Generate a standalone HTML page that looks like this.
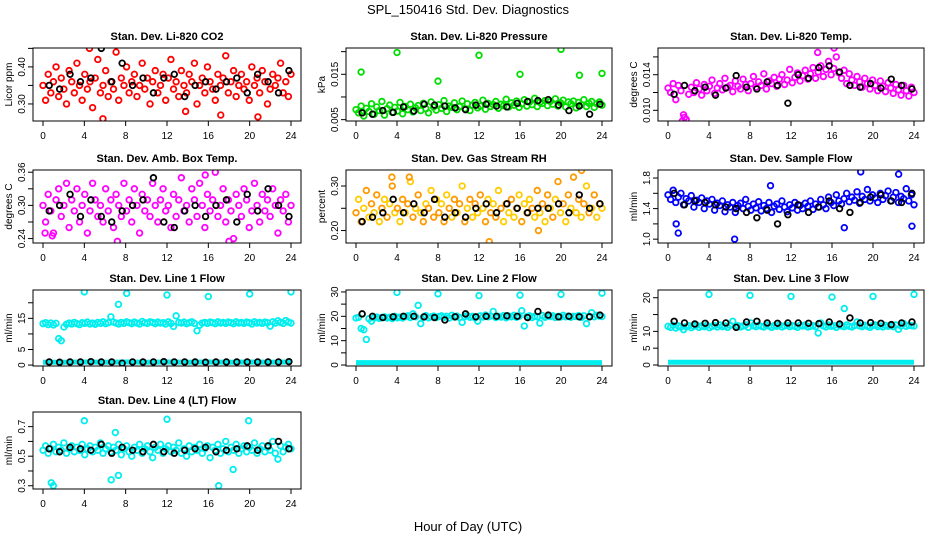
<!DOCTYPE html>
<html><head><meta charset="utf-8"><style>
html,body{margin:0;padding:0;background:#fff}
svg{display:block;font-family:"Liberation Sans",Arial,sans-serif}
</style></head><body>
<svg id="chart" width="936" height="540" viewBox="0 0 936 540">
<text x="468" y="14" text-anchor="middle" font-size="13">SPL_150416  Std. Dev. Diagnostics</text>
<text x="468" y="531" text-anchor="middle" font-size="13">Hour of Day (UTC)</text>
</svg>
<script>
const xTicks=[0,4,8,12,16,20,24];
const co2Vals=[.35,.31,.38,.33,.36,.40,.32,.37,.34,.30,.39,.36,.33,.41,.35,.31,.38,.34,.36,.29,.37,.42,.33,.35,.39,.32,.36,.34,.44,.31,.37,.35,.40,.33,.36,.38,.32,.35,.41,.34,.37,.30,.36,.39,.33,.35,.38,.31,.37,.42,.34,.36,.32,.39,.35,.33,.38,.36,.41,.30,.35,.37,.33,.40,.36,.34,.31,.38,.35,.37,.43,.33,.36,.39,.32,.35,.38,.34,.36,.31,.40,.35,.37,.33,.39,.36,.30,.34,.38,.35,.37,.41,.33,.36,.32,.38];
const co2Black=[.35,.34,.38,.36,.37,.45,.36,.41,.35,.37,.33,.37,.38,.32,.35,.36,.34,.36,.37,.33,.38,.36,.33,.39];
const co2OutH=[4.5,5.8,13.8,17.2,20.8];
const co2OutV=[.45,.26,.28,.27,.265];
const presVals=[.0072,.0065,.0080,.0058,.0075,.0068,.0085,.0062,.0078,.0070,.0090,.0060,.0074,.0082,.0066,.0077,.0069,.0088,.0063,.0079,.0072,.0084,.0067,.0076,.0081,.0070,.0086,.0074,.0065,.0089,.0078,.0071,.0083,.0075,.0092,.0068,.0080,.0077,.0087,.0072,.0079,.0091,.0074,.0085,.0070,.0082,.0088,.0076,.0080,.0093,.0073,.0086,.0079,.0083,.0090,.0075,.0084,.0081,.0095,.0078,.0087,.0082,.0091,.0077,.0085,.0094,.0080,.0089,.0083,.0097,.0079,.0088,.0086,.0092,.0081,.0090,.0084,.0096,.0080,.0087,.0093,.0078,.0089,.0085,.0091,.0076,.0088,.0083,.0094,.0079,.0086,.0090,.0077,.0085,.0089,.0082];
const presBlack=[.0065,.0062,.0070,.0066,.0078,.0069,.0084,.0082,.0080,.0076,.0072,.0082,.0084,.0080,.0078,.0086,.0090,.0092,.0094,.0082,.0070,.0080,.0062,.0084];
const presOutH=[0.5,4,8,12,16,20,21.8,24];
const presOutV=[.0155,.0198,.0135,.0192,.0150,.0205,.0148,.0152];
const tempVals=[.0125,.0120,.0130,.0112,.0128,.0122,.0095,.0090,.0118,.0126,.0120,.0131,.0124,.0117,.0129,.0122,.0127,.0134,.0119,.0125,.0130,.0123,.0136,.0126,.0128,.0121,.0133,.0127,.0124,.0135,.0129,.0122,.0130,.0138,.0126,.0132,.0128,.0141,.0124,.0133,.0130,.0137,.0127,.0135,.0140,.0129,.0134,.0146,.0131,.0137,.0142,.0133,.0139,.0145,.0135,.0141,.0148,.0136,.0143,.0150,.0138,.0146,.0155,.0140,.0147,.0160,.0142,.0136,.0145,.0130,.0141,.0134,.0128,.0138,.0132,.0126,.0136,.0130,.0124,.0134,.0128,.0122,.0133,.0127,.0121,.0131,.0125,.0119,.0129,.0123,.0117,.0128,.0122,.0116,.0126,.0120];
const tempBlack=[.0118,.0128,.0122,.0126,.0117,.0125,.0139,.0126,.0124,.0132,.0128,.0108,.0140,.0136,.0148,.0150,.0143,.0128,.0126,.0130,.0125,.0135,.0128,.0124];
const tempOutH=[1.4,1.6,16.2,14.6];
const tempOutV=[.0088,.0092,.0170,.0165];
const ambVals=[.30,.27,.32,.29,.25,.31,.33,.28,.30,.34,.26,.31,.29,.33,.27,.30,.32,.25,.29,.34,.31,.28,.30,.27,.33,.29,.31,.26,.32,.30,.28,.34,.29,.31,.27,.33,.30,.25,.32,.29,.31,.28,.34,.30,.27,.31,.33,.29,.30,.26,.32,.28,.31,.35,.29,.30,.27,.33,.31,.28,.34,.30,.26,.32,.29,.31,.36,.28,.30,.33,.27,.31,.29,.24,.32,.30,.28,.33,.31,.26,.29,.34,.30,.27,.32,.29,.31,.28,.33,.30,.25,.31,.29,.32,.27,.30];
const ambBlack=[.29,.30,.32,.28,.31,.28,.27,.29,.30,.31,.35,.27,.26,.29,.30,.28,.30,.31,.27,.32,.29,.33,.30,.28];
const ambOutH=[0.2,0.9,7.2,15.7,18.0];
const ambOutV=[.25,.245,.235,.355,.235];
const rhVals=[.24,.27,.22,.25,.29,.23,.26,.24,.28,.22,.25,.27,.23,.26,.30,.24,.25,.22,.27,.24,.26,.31,.23,.25,.28,.24,.22,.26,.25,.29,.23,.27,.24,.26,.22,.28,.25,.23,.27,.24,.26,.30,.22,.25,.27,.23,.26,.24,.28,.25,.22,.27,.24,.26,.23,.29,.25,.22,.26,.24,.27,.23,.25,.28,.22,.26,.24,.27,.25,.23,.29,.24,.26,.22,.28,.25,.23,.27,.31,.24,.26,.22,.28,.25,.32,.24,.27,.23,.26,.30,.24,.25,.28,.23,.26,.25];
const rhBlack=[.22,.23,.24,.27,.24,.26,.24,.27,.23,.24,.23,.25,.26,.24,.26,.25,.24,.25,.25,.26,.24,.28,.25,.26];
const rhOutH=[3.5,5.2,13.0,17.8,22.0];
const rhOutV=[.32,.32,.175,.20,.335];
const flowVals=[1.58,1.52,1.64,1.48,1.55,1.60,1.45,1.53,1.50,1.57,1.42,1.51,1.48,1.54,1.40,1.50,1.46,1.52,1.38,1.47,1.44,1.50,1.36,1.45,1.42,1.48,1.35,1.44,1.47,1.40,1.52,1.43,1.38,1.46,1.41,1.49,1.37,1.44,1.40,1.48,1.35,1.43,1.46,1.39,1.50,1.42,1.36,1.45,1.41,1.48,1.38,1.44,1.40,1.47,1.43,1.50,1.39,1.46,1.42,1.52,1.45,1.40,1.55,1.48,1.44,1.58,1.50,1.46,1.53,1.60,1.49,1.55,1.51,1.62,1.47,1.56,1.52,1.65,1.50,1.58,1.54,1.48,1.60,1.52,1.57,1.63,1.50,1.55,1.61,1.48,1.56,1.53,1.66,1.50,1.58,1.45];
const flowBlack=[1.60,1.45,1.50,1.48,1.45,1.42,1.40,1.35,1.28,1.38,1.20,1.32,1.45,1.35,1.42,1.50,1.40,1.35,1.48,1.55,1.58,1.50,1.48,1.60];
const flowOutH=[0.8,1.0,6.5,10,18.8,22.5,23.8,17.2];
const flowOutV=[1.2,1.08,1.0,1.7,1.88,1.85,1.17,1.15];
const l1Vals=[13.3,13.6,13.0,13.5,12.9,13.4,8.5,7.8,12.2,13.1,13.5,13.2,13.7,13.3,13.0,13.6,13.4,13.8,13.2,13.5,13.1,13.7,13.4,13.9,13.3,13.6,15.5,13.8,13.5,13.2,13.7,13.4,13.9,13.6,13.3,13.8,13.5,13.2,14.0,13.6,13.4,13.9,13.7,13.3,13.8,13.5,13.6,13.2,13.9,13.4,12.4,15.8,13.7,13.5,13.8,13.3,13.6,13.9,13.4,11.0,12.8,13.5,13.7,13.4,13.8,13.6,13.3,13.9,13.5,13.7,13.4,13.8,13.6,13.3,13.9,13.5,13.7,13.4,13.8,13.6,13.2,13.9,13.5,13.7,13.4,13.8,13.6,12.5,13.9,13.5,14.2,13.7,13.4,14.3,13.8,13.5];
const l1Black=[1.0,0.9,1.0,1.0,1.1,1.0,1.0,0.6,1.0,1.0,1.0,1.1,1.0,1.0,1.0,0.9,1.0,1.0,1.0,1.0,1.0,1.0,1.0,1.1];
const l1Low=[0.9,0.9,1.0,0.9,1.0,0.9,1.0,0.9,1.0,0.9,1.0,0.9,1.0];
const l1OutH=[4,7.3,8.1,12,16,20,24];
const l1OutV=[23.5,19.5,23.0,22.5,22.0,22.8,23.5];
const l2Vals=[19.3,19.6,15.0,14.5,10.5,19.0,18.0,19.4,19.7,19.2,19.5,19.8,19.3,19.6,19.1,20.0,19.4,19.7,19.3,19.9,20.2,19.5,21.0,19.8,24.5,17.0,19.6,20.3,19.4,19.8,20.1,19.5,19.9,20.2,19.6,20.0,19.3,20.4,19.7,20.1,19.5,17.5,19.9,20.3,19.6,20.0,19.4,18.0,20.2,19.7,20.5,19.8,20.1,22.0,19.5,20.0,19.7,20.3,19.4,20.1,19.8,20.4,19.6,20.0,22.3,16.0,19.9,20.2,19.5,20.0,19.8,17.2,20.3,19.6,20.1,19.9,20.2,19.5,20.0,19.7,20.4,19.8,20.1,19.6,20.0,19.9,20.3,19.5,20.2,17.0,20.0,21.5,19.8,20.4,20.1,19.9];
const l2Black=[21.0,20.0,19.5,19.8,20.0,20.0,19.8,19.5,18.5,19.8,21.0,19.8,20.0,20.0,20.2,20.0,19.5,22.0,20.5,19.8,20.0,19.8,19.8,20.5];
const l2Low=[1.0,1.0,1.0,1.0,1.0,1.0,1.0,1.0,1.0,1.0,1.0,1.0,1.0];
const l2OutH=[4,8,12,16,20,24];
const l2OutV=[29.8,29.2,28.5,28.7,29.0,29.5];
const l3Vals=[11.5,11.2,11.8,11.0,11.6,11.3,10.5,11.4,11.7,11.1,11.5,11.9,11.2,11.6,11.4,11.8,11.1,11.5,11.7,11.3,11.9,11.4,11.6,11.2,11.8,13.0,11.5,11.7,11.3,11.6,11.9,11.2,12.5,11.7,11.4,11.8,11.5,11.3,11.9,11.6,11.2,11.7,11.5,11.9,11.3,11.6,11.8,11.4,11.7,11.5,11.2,11.8,11.6,11.9,11.3,11.5,11.7,11.4,9.5,12.5,11.6,11.3,11.9,11.5,11.7,11.2,11.8,11.6,11.4,11.9,11.5,11.3,11.7,12.8,11.6,11.4,11.8,11.5,11.2,11.7,11.9,11.4,11.6,11.3,11.8,11.5,11.7,11.4,11.9,10.6,11.6,12.3,11.5,11.8,11.7,11.6];
const l3Black=[13.0,12.5,12.2,12.4,12.6,12.5,11.2,12.8,13.0,12.5,12.4,12.5,12.5,12.4,12.3,12.8,12.2,14.0,12.5,12.6,12.4,12.0,12.5,12.8];
const l3Low=[0.8,0.8,0.8,0.8,0.8,0.8,0.8,0.8,0.8,0.8,0.8,0.8,0.8];
const l3OutH=[4,8,12,16,17.2,20,24];
const l3OutV=[21.0,20.7,20.4,20.2,16.8,20.4,21.0];
const l4Vals=[.54,.57,.52,.55,.58,.53,.56,.54,.59,.52,.55,.57,.53,.56,.54,.58,.51,.55,.57,.53,.56,.54,.59,.52,.55,.57,.53,.56,.54,.58,.51,.55,.57,.53,.50,.56,.54,.58,.52,.55,.57,.53,.49,.56,.54,.58,.52,.55,.57,.53,.56,.54,.59,.52,.55,.50,.57,.53,.56,.54,.58,.52,.55,.57,.49,.56,.54,.58,.52,.55,.60,.53,.56,.54,.58,.52,.55,.57,.53,.56,.54,.59,.52,.55,.57,.53,.56,.54,.60,.52,.48,.57,.53,.56,.58,.55];
const l4Black=[.55,.53,.56,.55,.54,.58,.52,.56,.54,.53,.58,.53,.52,.54,.55,.56,.53,.54,.55,.57,.54,.57,.60,.55];
const l4OutH=[0.8,1.0,4,6.6,7.0,7.3,12,17,18.4,19.9];
const l4OutV=[.32,.30,.74,.34,.66,.37,.75,.30,.41,.74];

const COLL=[33,346,658], COLR=[301,612,924], ROWT=[48,170,290,412], ROWB=[121,243,366,489];
const panels=[
 {id:'co2',title:'Stan. Dev. Li-820 CO2',ylab:'Licor ppm',c:0,r:0,lo:.254,hi:.451,ticks:[.30,.35,.40,.45],labs:['0.30','','0.40',''],col:'#ff0000',vals:co2Vals,blk:co2Black,oh:co2OutH,ov:co2OutV},
 {id:'pressure',title:'Stan. Dev. Li-820 Pressure',ylab:'kPa',c:1,r:0,lo:.0047,hi:.0208,ticks:[.005,.010,.015,.020],labs:['0.005','','0.015',''],col:'#00dd00',vals:presVals,blk:presBlack,oh:presOutH,ov:presOutV},
 {id:'temp',title:'Stan. Dev. Li-820 Temp.',ylab:'degrees C',c:2,r:0,lo:.0088,hi:.0170,ticks:[.010,.012,.014,.016],labs:['0.010','','0.014',''],col:'#ff00ff',vals:tempVals,blk:tempBlack,oh:tempOutH,ov:tempOutV},
 {id:'amb-box-temp',title:'Stan. Dev. Amb. Box Temp.',ylab:'degrees C',c:0,r:1,lo:.232,hi:.364,ticks:[.24,.27,.30,.33,.36],labs:['0.24','','0.30','','0.36'],col:'#ff00ff',vals:ambVals,blk:ambBlack,oh:ambOutH,ov:ambOutV},
 {id:'gas-rh',title:'Stan. Dev. Gas Stream RH',ylab:'percent',c:1,r:1,lo:.172,hi:.336,ticks:[.20,.25,.30],labs:['0.20','','0.30'],col:'#ff9900',col2:'#ffcc00',vals:rhVals,blk:rhBlack,oh:rhOutH,ov:rhOutV},
 {id:'sample-flow',title:'Stan. Dev. Sample Flow',ylab:'ml/min',c:2,r:1,lo:.95,hi:1.905,ticks:[1.0,1.2,1.4,1.6,1.8],labs:['1.0','','1.4','','1.8'],col:'#0000ff',vals:flowVals,blk:flowBlack,oh:flowOutH,ov:flowOutV},
 {id:'line1',title:'Stan. Dev. Line 1 Flow',ylab:'ml/min',c:0,r:2,lo:-.3,hi:24.1,ticks:[0,5,10,15,20],labs:['0','5','','15',''],col:'#00eeee',vals:l1Vals,blk:l1Black,oh:l1OutH,ov:l1OutV,low:l1Low},
 {id:'line2',title:'Stan. Dev. Line 2 Flow',ylab:'ml/min',c:1,r:2,lo:-.4,hi:30.8,ticks:[0,5,10,15,20,25,30],labs:['0','','10','','20','','30'],col:'#00eeee',vals:l2Vals,blk:l2Black,oh:l2OutH,ov:l2OutV,low:l2Low},
 {id:'line3',title:'Stan. Dev. Line 3 Flow',ylab:'ml/min',c:2,r:2,lo:-.3,hi:22.3,ticks:[0,5,10,15,20],labs:['0','5','10','','20'],col:'#00eeee',vals:l3Vals,blk:l3Black,oh:l3OutH,ov:l3OutV,low:l3Low},
 {id:'line4',title:'Stan. Dev. Line 4 (LT) Flow',ylab:'ml/min',c:0,r:3,lo:.278,hi:.799,ticks:[.3,.4,.5,.6,.7],labs:['0.3','','0.5','','0.7'],col:'#00eeee',vals:l4Vals,blk:l4Black,oh:l4OutH,ov:l4OutV}
];
const svg=document.getElementById('chart');
const NS='http://www.w3.org/2000/svg';
function mk(tag,attrs,parent){const e=document.createElementNS(NS,tag);for(const k in attrs)e.setAttribute(k,attrs[k]);(parent||svg).appendChild(e);return e;}
panels.forEach(p=>{
  const L=COLL[p.c],R=COLR[p.c],T=ROWT[p.r],B=ROWB[p.r];
  const xs=h=>L+10+h/24*(R-L-20);
  const ys=v=>T+(p.hi-v)/(p.hi-p.lo)*(B-T);
  const g=mk('g',{});
  
  
  const cp=mk('clipPath',{id:'cp-'+p.id},g);
  mk('rect',{x:L,y:T,width:R-L,height:B-T},cp);
  const t=mk('text',{x:(L+R)/2,y:T-8,'text-anchor':'middle','font-size':'11','font-weight':'bold'},g);
  t.textContent=p.title;
  
  
  const yl=mk('text',{x:0,y:0,'text-anchor':'middle','font-size':'10',transform:`translate(${L-21},${(T+B)/2}) rotate(-90)`},g);
  yl.textContent=p.ylab;
  
  
  const pts=mk('g',{'clip-path':`url(#cp-${p.id})`,fill:'none','stroke-width':'1.8'},g);
  
  
  if(p.low){
    const d=p.low.map((v,i)=>`${i?'L':'M'}${xs(i*24/(p.low.length-1)).toFixed(1)},${ys(v).toFixed(1)}`).join('');
    const ln=mk('path',{d:d,stroke:p.col,'stroke-width':'5',fill:'none'},pts);
    
    
  }
  p.vals.forEach((v,i)=>{
    const c=mk('circle',{cx:xs(i*24/(p.vals.length-1)),cy:ys(v),r:2.8,stroke:(p.col2&&i%2)?p.col2:p.col},pts);
    
    
  });
  p.oh.forEach((h,i)=>{
    const c=mk('circle',{cx:xs(h),cy:ys(p.ov[i]),r:2.8,stroke:p.col},pts);
    
    
  });
  p.blk.forEach((v,i)=>{
    const c=mk('circle',{cx:xs(0.6+i*23.2/(p.blk.length-1)),cy:ys(v),r:2.8,stroke:'#000'},pts);
    
    
  });
  const box=mk('rect',{x:L,y:T,width:R-L,height:B-T,fill:'none',stroke:'#000','stroke-width':'1'},g);
  
  
  xTicks.forEach(h=>{
    mk('line',{x1:xs(h),x2:xs(h),y1:B,y2:B+5,stroke:'#000'},g);
    const tx=mk('text',{x:xs(h),y:B+18,'text-anchor':'middle','font-size':'10'},g);
    tx.textContent=h;
    
    
  });
  p.ticks.forEach((v,i)=>{
    mk('line',{x1:L-5,x2:L,y1:ys(v),y2:ys(v),stroke:'#000'},g);
    if(p.labs[i]){
      const ty=mk('text',{x:0,y:0,'text-anchor':'middle','font-size':'10',transform:`translate(${L-8},${ys(v)}) rotate(-90)`},g);
      ty.textContent=p.labs[i];
      
      
    }
  });
});
</script>
</body></html>
